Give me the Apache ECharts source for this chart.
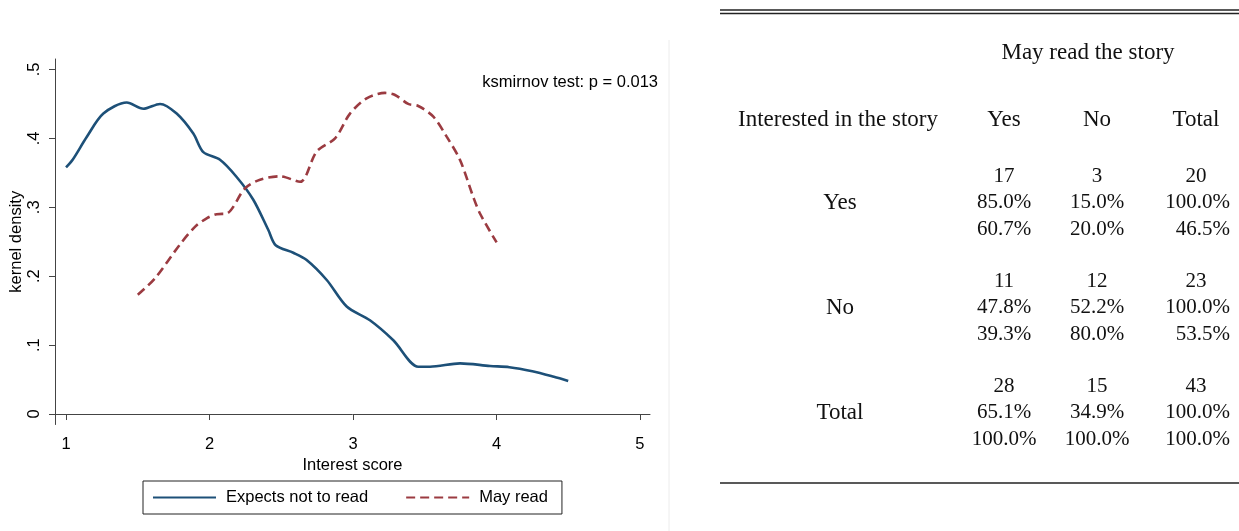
<!DOCTYPE html>
<html>
<head>
<meta charset="utf-8">
<script src="https://cdn.jsdelivr.net/npm/echarts@6/dist/echarts.min.js"></script>
<style>
html,body{margin:0;padding:0;background:#fff;}
#chart{width:1239px;height:531px;}
</style>
</head>
<body>
<div id="chart"></div>
<script>
// ---- data ----
var xTicks = [1, 2, 3, 4, 5];
var yTicks = [0, 0.1, 0.2, 0.3, 0.4, 0.5];
var seriesNames = ['Expects not to read', 'May read'];

var notReadX = [1.00, 1.046, 1.144, 1.26, 1.423, 1.539, 1.655, 1.771, 1.887, 1.957, 2.073, 2.189, 2.305, 2.41, 2.461, 2.584, 2.677, 2.817, 2.956, 3.118, 3.281, 3.455, 3.537, 3.746, 3.955, 4.09, 4.25, 4.4, 4.5];
var notReadY = [0.358, 0.369, 0.402, 0.436, 0.452, 0.443, 0.450, 0.436, 0.407, 0.380, 0.369, 0.344, 0.311, 0.267, 0.245, 0.234, 0.2235, 0.1945, 0.156, 0.136, 0.107, 0.0687, 0.0687, 0.0735, 0.0697, 0.068, 0.062, 0.054, 0.048];

var mayReadX = [1.50, 1.62, 1.79, 1.90, 1.98, 2.05, 2.12, 2.247, 2.352, 2.491, 2.631, 2.747, 2.875, 2.979, 3.095, 3.223, 3.293, 3.385, 3.455, 3.56, 3.653, 3.746, 3.838, 3.885, 4.001];
var mayReadY = [0.173, 0.197, 0.245, 0.272, 0.284, 0.290, 0.291, 0.3275, 0.340, 0.345, 0.337, 0.381, 0.400, 0.436, 0.458, 0.466, 0.463, 0.450, 0.447, 0.4315, 0.4025, 0.3686, 0.315, 0.291, 0.249];

var testNote = 'ksmirnov test: p = 0.013';

// table
var tableTitle = 'May read the story';
var rowHeader = 'Interested in the story';
var colHeaders = ['Yes', 'No', 'Total'];
var rowLabels = ['Yes', 'No', 'Total'];
var counts = [['17', '3', '20'], ['11', '12', '23'], ['28', '15', '43']];
var rowPct = [['85.0%', '15.0%', '100.0%'], ['47.8%', '52.2%', '100.0%'], ['65.1%', '34.9%', '100.0%']];
var colPct = [['60.7%', '20.0%', '46.5%'], ['39.3%', '80.0%', '53.5%'], ['100.0%', '100.0%', '100.0%']];

// ---- build ----
function pairs(xs, ys) { return xs.map(function (x, i) { return [x, ys[i]]; }); }

var sans = 'Liberation Sans, Arial, Helvetica, sans-serif';
var serif = 'Liberation Serif, DejaVu Serif, serif';
var numFont = 21;
var wordFont = 23;
var fs = 16.5;

var graphics = [];
// separator
graphics.push({type: 'line', shape: {x1: 669, y1: 40, x2: 669, y2: 531}, style: {stroke: '#ececec', lineWidth: 1}});
// table rules
graphics.push({type: 'line', shape: {x1: 720, y1: 10, x2: 1239, y2: 10}, style: {stroke: '#222', lineWidth: 1.3}});
graphics.push({type: 'line', shape: {x1: 720, y1: 13.5, x2: 1239, y2: 13.5}, style: {stroke: '#222', lineWidth: 1.3}});
graphics.push({type: 'line', shape: {x1: 720, y1: 483, x2: 1239, y2: 483}, style: {stroke: '#222', lineWidth: 1.3}});

function txt(s, x, y, align, size) {
  graphics.push({type: 'text', x: x, y: y, style: {text: s, font: (size || numFont) + 'px ' + serif, fill: '#111', textAlign: align || 'center', textVerticalAlign: 'middle'}});
}
txt(tableTitle, 1088, 53, 'center', wordFont);
txt(rowHeader, 838, 120, 'center', wordFont);
var colX = [1004, 1097, 1196];
var colRight = 1230;
colHeaders.forEach(function (h, j) { txt(h, colX[j], 120, 'center', wordFont); });
var groupY = [176, 281, 386];
var lineStep = 26.5;
rowLabels.forEach(function (lab, i) {
  var y0 = groupY[i];
  txt(lab, 840, y0 + lineStep, 'center', wordFont);
  for (var j = 0; j < 3; j++) {
    txt(counts[i][j], colX[j], y0);
    if (j === 2) {
      txt(rowPct[i][j], colRight, y0 + lineStep, 'right');
      txt(colPct[i][j], colRight, y0 + 2 * lineStep, 'right');
    } else {
      txt(rowPct[i][j], colX[j], y0 + lineStep);
      txt(colPct[i][j], colX[j], y0 + 2 * lineStep);
    }
  }
});
// test note
graphics.push({type: 'text', x: 658, y: 82, style: {text: testNote, font: fs + 'px ' + sans, fill: '#000', textAlign: 'right', textVerticalAlign: 'middle'}});

var axisCol = '#444';
var blue = '#1d5078';
var red = '#9b3b41';
var option = {
  animation: false,
  backgroundColor: '#fff',
  grid: {left: 55, top: 59, right: 589, bottom: 106.5, containLabel: false},
  xAxis: {
    type: 'value', min: 0.923, max: 5.07,
    name: 'Interest score', nameLocation: 'middle', nameGap: 29,
    nameTextStyle: {fontFamily: sans, fontSize: fs, color: '#000'},
    axisLine: {show: true, lineStyle: {color: axisCol, width: 1}},
    axisTick: {show: true, length: 6, customValues: xTicks, lineStyle: {color: axisCol}},
    axisLabel: {customValues: xTicks, margin: 11, fontFamily: sans, fontSize: fs, color: '#000'},
    splitLine: {show: false}
  },
  yAxis: {
    type: 'value', min: -0.0152, max: 0.5152,
    name: 'kernel density', nameLocation: 'middle', nameGap: 28, nameRotate: 90,
    nameTextStyle: {fontFamily: sans, fontSize: fs, color: '#000'},
    axisLine: {show: true, lineStyle: {color: axisCol, width: 1}},
    axisTick: {show: true, length: 6, customValues: yTicks, lineStyle: {color: axisCol}},
    axisLabel: {customValues: yTicks, rotate: 90, margin: 12, fontFamily: sans, fontSize: fs, color: '#000',
      formatter: function (v) { return v === 0 ? '0' : String(+v.toFixed(1)).replace(/^0/, ''); }},
    splitLine: {show: false}
  },
  legend: {
    left: 143, top: 481, orient: 'horizontal',
    data: seriesNames,
    borderColor: '#222', borderWidth: 1, borderRadius: 0,
    padding: [8, 14, 8, 9],
    itemWidth: 63, itemHeight: 14, itemGap: 37,
    itemStyle: {opacity: 0},
    textStyle: {fontFamily: sans, fontSize: fs, color: '#000', padding: [0, 0, 0, 5]}
  },
  series: [
    {name: seriesNames[0], type: 'line', data: pairs(notReadX, notReadY), symbol: 'none', smooth: 0.3,
      lineStyle: {color: blue, width: 2.6}, itemStyle: {color: blue}},
    {name: seriesNames[1], type: 'line', data: pairs(mayReadX, mayReadY), symbol: 'none', smooth: 0.3,
      lineStyle: {color: red, width: 2.6, type: [9, 5]}, itemStyle: {color: red}}
  ],
  graphic: graphics
};
var chart = echarts.init(document.getElementById('chart'), null, {renderer: 'canvas'});
chart.setOption(option);
</script>
</body>
</html>
